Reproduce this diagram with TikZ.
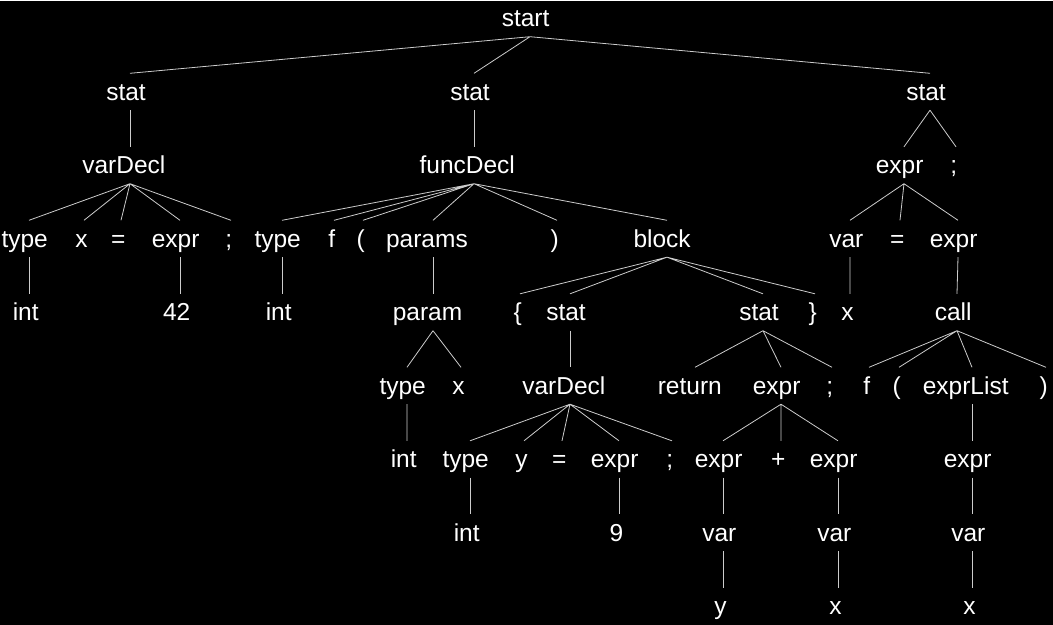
\documentclass[tikz,border=0pt]{standalone}
\usepackage{fontspec}
\usepackage{calc}
\setmainfont{Liberation Sans}
\newcommand{\tm}[1]{\makebox[\width+\width/10+4pt][l]{#1}}
\tikzset{
  tok/.style={text=white,inner sep=0pt,anchor=base,text height=26.5pt,text depth=10pt,font=\fontsize{24.5}{28}\selectfont},
  edge/.style={draw=black!20!white,line width=0.8pt}
}
\begin{document}
\begin{tikzpicture}[x=1pt,y=-1pt]
        \fill [black] (0,0) rectangle (1053,624);
        % rows
        \node [tok] (st) at (530,26) {\tm{start}};
        \node [tok] (s1) at (130,99.5) {\tm{stat}};
        \node [tok] (s2) at (474,99.5) {\tm{stat}};
        \node [tok] (s3) at (930,99.5) {\tm{stat}};
        \node [tok] (vd1) at (130,173) {\tm{varDecl}};
        \node [tok] (fd) at (474,173) {\tm{funcDecl}};
        \node [tok] (e3) at (904,173) {\tm{expr}};
        \node [tok] (semi3) at (956,173) {\tm{;}};
        \node [tok] (ty1) at (29,246.5) {\tm{type}};
        \node [tok] (x1) at (84,246.5) {\tm{x}};
        \node [tok] (eq1) at (121,246.5) {\tm{=}};
        \node [tok] (e1) at (180,246.5) {\tm{expr}};
        \node [tok] (semi1) at (231,246.5) {\tm{;}};
        \node [tok] (ty2) at (282,246.5) {\tm{type}};
        \node [tok] (f2) at (334,246.5) {\tm{f}};
        \node [tok] (lp2) at (363,246.5) {\tm{(}};
        \node [tok] (ps) at (433,246.5) {\tm{params}};
        \node [tok] (rp2) at (557,246.5) {\tm{)}};
        \node [tok] (blk) at (667,246.5) {\tm{block}};
        \node [tok] (var3) at (850,246.5) {\tm{var}};
        \node [tok] (eq3) at (900,246.5) {\tm{=}};
        \node [tok] (e3b) at (958,246.5) {\tm{expr}};
        \node [tok] (int1) at (29,320) {\tm{int}};
        \node [tok] (n42) at (180,320) {\tm{42}};
        \node [tok] (int2) at (282,320) {\tm{int}};
        \node [tok] (pm) at (433,320) {\tm{param}};
        \node [tok] (lb) at (520,320) {\tm{\{}};
        \node [tok] (s4) at (570,320) {\tm{stat}};
        \node [tok] (s5) at (763,320) {\tm{stat}};
        \node [tok] (rb) at (815,320) {\tm{\}}};
        \node [tok] (x3) at (850,320) {\tm{x}};
        \node [tok] (call) at (957,320) {\tm{call}};
        \node [tok] (ty3) at (407,393.5) {\tm{type}};
        \node [tok] (x2) at (461,393.5) {\tm{x}};
        \node [tok] (vd2) at (570,393.5) {\tm{varDecl}};
        \node [tok] (ret) at (695,393.5) {\tm{return}};
        \node [tok] (e5) at (781,393.5) {\tm{expr}};
        \node [tok] (semi5) at (832,393.5) {\tm{;}};
        \node [tok] (f3) at (869,393.5) {\tm{f}};
        \node [tok] (lp3) at (899,393.5) {\tm{(}};
        \node [tok] (el) at (972,393.5) {\tm{exprList}};
        \node [tok] (rp3) at (1046,393.5) {\tm{)}};
        \node [tok] (int3) at (407,467) {\tm{int}};
        \node [tok] (ty4) at (470,467) {\tm{type}};
        \node [tok] (y1) at (524,467) {\tm{y}};
        \node [tok] (eq2) at (562,467) {\tm{=}};
        \node [tok] (e2) at (619,467) {\tm{expr}};
        \node [tok] (semi2) at (672,467) {\tm{;}};
        \node [tok] (e6) at (723,467) {\tm{expr}};
        \node [tok] (plus) at (781,467) {\tm{+}};
        \node [tok] (e7) at (838,467) {\tm{expr}};
        \node [tok] (e8) at (972,467) {\tm{expr}};
        \node [tok] (int4) at (470,540.5) {\tm{int}};
        \node [tok] (n9) at (619,540.5) {\tm{9}};
        \node [tok] (var1) at (723,540.5) {\tm{var}};
        \node [tok] (var2) at (838,540.5) {\tm{var}};
        \node [tok] (var4) at (972,540.5) {\tm{var}};
        \node [tok] (y2) at (723,614) {\tm{y}};
        \node [tok] (x4) at (838,614) {\tm{x}};
        \node [tok] (x5) at (972,614) {\tm{x}};
        % edges
        \path [edge] (st.south) -- (s1.north) (st.south) -- (s2.north) (st.south) -- (s3.north);
        \path [edge] (s1.south) -- (vd1.north);
        \path [edge] (vd1.south) -- (ty1.north) (vd1.south) -- (x1.north) (vd1.south) -- (eq1.north) (vd1.south) -- (e1.north) (vd1.south) -- (semi1.north);
        \path [edge] (ty1.south) -- (int1.north) (e1.south) -- (n42.north);
        \path [edge] (s2.south) -- (fd.north);
        \path [edge] (fd.south) -- (ty2.north) (fd.south) -- (f2.north) (fd.south) -- (lp2.north) (fd.south) -- (ps.north) (fd.south) -- (rp2.north) (fd.south) -- (blk.north);
        \path [edge] (ty2.south) -- (int2.north) (ps.south) -- (pm.north);
        \path [edge] (pm.south) -- (ty3.north) (pm.south) -- (x2.north) (ty3.south) -- (int3.north);
        \path [edge] (blk.south) -- (lb.north) (blk.south) -- (s4.north) (blk.south) -- (s5.north) (blk.south) -- (rb.north);
        \path [edge] (s4.south) -- (vd2.north);
        \path [edge] (vd2.south) -- (ty4.north) (vd2.south) -- (y1.north) (vd2.south) -- (eq2.north) (vd2.south) -- (e2.north) (vd2.south) -- (semi2.north);
        \path [edge] (ty4.south) -- (int4.north) (e2.south) -- (n9.north);
        \path [edge] (s5.south) -- (ret.north) (s5.south) -- (e5.north) (s5.south) -- (semi5.north);
        \path [edge] (e5.south) -- (e6.north) (e5.south) -- (plus.north) (e5.south) -- (e7.north);
        \path [edge] (e6.south) -- (var1.north) (var1.south) -- (y2.north);
        \path [edge] (e7.south) -- (var2.north) (var2.south) -- (x4.north);
        \path [edge] (s3.south) -- (e3.north) (s3.south) -- (semi3.north);
        \path [edge] (e3.south) -- (var3.north) (e3.south) -- (eq3.north) (e3.south) -- (e3b.north);
        \path [edge] (var3.south) -- (x3.north) (e3b.south) -- (call.north);
        \path [edge] (call.south) -- (f3.north) (call.south) -- (lp3.north) (call.south) -- (el.north) (call.south) -- (rp3.north);
        \path [edge] (el.south) -- (e8.north) (e8.south) -- (var4.north) (var4.south) -- (x5.north);
    \end{tikzpicture}
\end{document}
